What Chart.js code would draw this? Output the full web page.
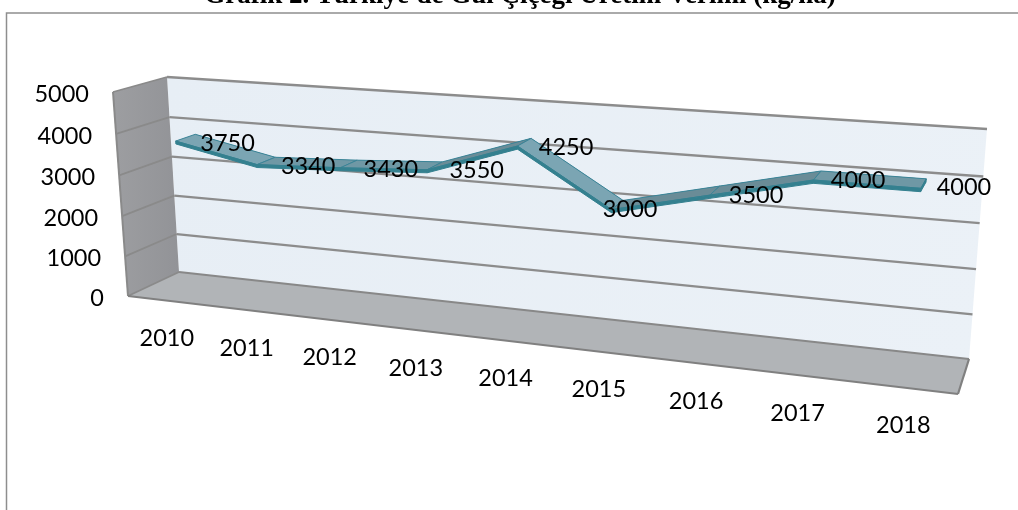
<!DOCTYPE html>
<html lang="tr">
<head>
  <meta charset="UTF-8">
  <title>Grafik 2</title>
  <style>
    html, body { margin: 0; padding: 0; background: #fff; overflow: hidden; }
    .chart-container { position: relative; width: 1018px; height: 510px; }
  </style>
  <script src="https://cdn.jsdelivr.net/npm/chart.js"></script>
</head>
<body>
<div class="chart-container"><canvas id="chart"></canvas></div>
<script>
  const years = ['2010', '2011', '2012', '2013', '2014', '2015', '2016', '2017', '2018'];
  const verim = [3750, 3340, 3430, 3550, 4250, 3000, 3500, 4000, 4000];
  const yTicks = [0, 1000, 2000, 3000, 4000, 5000];
  const chartTitle = "Grafik 2. Türkiye'de Gül Çiçeği Üretim Verimi (kg/ha)";

  // quad corners of the fake 3d box: bottom left, bottom right, top right, top left
  const backWall = [[179, 272], [969, 359], [987, 129], [167, 77]];
  const frontPlane = [[128, 296], [958, 394], [976, 152], [113, 92]];
  const ribbonFront = 0.37, ribbonBack = 0.75, ribbonThick = 0.014;
  const labelFont = '23.5px Lato';

  function quadMap(q) {
    const [[x0, y0], [x1, y1], [x2, y2], [x3, y3]] = q;
    const dx1 = x1 - x2, dx2 = x3 - x2, sx = x0 - x1 + x2 - x3;
    const dy1 = y1 - y2, dy2 = y3 - y2, sy = y0 - y1 + y2 - y3;
    const den = dx1 * dy2 - dx2 * dy1;
    const g = (sx * dy2 - dx2 * sy) / den, h = (dx1 * sy - sx * dy1) / den;
    const a = x1 - x0 + g * x1, b = x3 - x0 + h * x3;
    const d = y1 - y0 + g * y1, e = y3 - y0 + h * y3;
    return (u, v) => {
      const k = g * u + h * v + 1;
      return [(a * u + b * v + x0) / k, (d * u + e * v + y0) / k];
    };
  }
  const onBack = quadMap(backWall), onFront = quadMap(frontPlane);

  // u along the years, v up the value axis, w from front (0) to back (1)
  function project(u, v, w) {
    const f = onFront(u, v), b = onBack(u, v);
    return [f[0] + (b[0] - f[0]) * w, f[1] + (b[1] - f[1]) * w];
  }

  function poly(ctx, pts, fill, stroke, lw) {
    ctx.beginPath();
    pts.forEach((p, i) => i ? ctx.lineTo(p[0], p[1]) : ctx.moveTo(p[0], p[1]));
    ctx.closePath();
    if (fill) { ctx.fillStyle = fill; ctx.fill(); }
    if (stroke) { ctx.strokeStyle = stroke; ctx.lineWidth = lw || 1; ctx.stroke(); }
  }
  function seg(ctx, a, b, color, lw) {
    ctx.beginPath();
    ctx.moveTo(a[0], a[1]);
    ctx.lineTo(b[0], b[1]);
    ctx.strokeStyle = color;
    ctx.lineWidth = lw;
    ctx.stroke();
  }

  const box3d = {
    id: 'box3d',
    beforeDatasetsDraw(chart) {
      const ctx = chart.ctx, y = chart.scales.y, x = chart.scales.x, area = chart.chartArea;
      const vOf = t => (area.bottom - y.getPixelForValue(t)) / area.height;
      ctx.save();

      // frame, the right and bottom sides are cut off in the source
      ctx.strokeStyle = '#8e8e8e';
      ctx.lineWidth = 1.5;
      ctx.beginPath();
      ctx.moveTo(6.5, 510);
      ctx.lineTo(6.5, 13);
      ctx.lineTo(1018, 13);
      ctx.stroke();

      const wallGrad = ctx.createLinearGradient(170, 80, 980, 350);
      wallGrad.addColorStop(0, '#e7eef5');
      wallGrad.addColorStop(1, '#ebf1f7');
      poly(ctx, backWall, wallGrad);

      const sideGrad = ctx.createLinearGradient(113, 0, 179, 0);
      sideGrad.addColorStop(0, '#9d9ea1');
      sideGrad.addColorStop(1, '#929397');
      poly(ctx, [frontPlane[3], backWall[3], backWall[0], frontPlane[0]], sideGrad);
      poly(ctx, [frontPlane[0], backWall[0], backWall[1], frontPlane[1]], '#b1b4b7');

      yTicks.forEach(t => {
        const v = vOf(t);
        seg(ctx, project(0, v, 0), project(0, v, 1), '#8a8a8a', 1.8);
        if (t > 0) seg(ctx, project(0, v, 1), project(1, v, 1), '#8c8c8c', 2.3);
      });
      // box edges
      seg(ctx, project(0, 0, 0), project(0, 1, 0), '#8a8a8a', 2);
      seg(ctx, project(0, 0, 1), project(1, 0, 1), '#888888', 2);
      seg(ctx, project(0, 0, 0), project(1, 0, 0), '#808080', 2.2);
      seg(ctx, project(1, 0, 0), project(1, 0, 1), '#808080', 2.2);

      // axis text
      ctx.fillStyle = '#000';
      ctx.font = labelFont;
      ctx.textBaseline = 'middle';
      ctx.textAlign = 'right';
      yTicks.forEach(t => {
        const p = project(0, vOf(t), 0);
        ctx.fillText(String(t), p[0] - 24, p[1] + 2);
      });
      ctx.textAlign = 'center';
      years.forEach((yr, i) => {
        const u = (x.getPixelForValue(i) - area.left) / area.width;
        const p = project(u, 0, 0);
        ctx.fillText(yr, p[0], p[1] + 38);
      });

      // title, clipped by the top of the page like in the source
      ctx.font = 'bold 27px "Liberation Serif"';
      ctx.textBaseline = 'alphabetic';
      ctx.fillText(chartTitle, 520, 3);
      ctx.restore();
    },
    afterDatasetsDraw(chart) {
      const ctx = chart.ctx, area = chart.chartArea;
      const pts = chart.getDatasetMeta(0).data.map(el => ({
        u: (el.x - area.left) / area.width,
        v: (area.bottom - el.y) / area.height
      }));
      const edgeF = p => project(p.u, p.v, ribbonFront);
      const edgeB = p => project(p.u, p.v, ribbonBack);
      const lowF = p => project(p.u, p.v - ribbonThick, ribbonFront);
      const lowB = p => project(p.u, p.v - ribbonThick, ribbonBack);
      ctx.save();
      ctx.lineJoin = 'round';
      for (let i = 0; i < pts.length - 1; i++) {
        const a = pts[i], b = pts[i + 1], dv = b.v - a.v;
        const top = dv < -0.03 ? '#7ba5b3' : dv > 0.03 ? '#6a8c97' : '#6f98a5';
        poly(ctx, [lowB(a), lowB(b), edgeB(b), edgeB(a)], '#34808f');
        poly(ctx, [edgeF(a), edgeF(b), edgeB(b), edgeB(a)], top, '#3b8497', 1);
        poly(ctx, [edgeF(a), edgeF(b), lowF(b), lowF(a)], '#34808f', '#34808f', 1);
      }
      const last = pts[pts.length - 1];
      poly(ctx, [edgeF(last), edgeB(last), lowB(last), lowF(last)], '#34808f', '#34808f', 1);

      // value labels sit to the right of the back edge, 3000 is moved in the source
      ctx.fillStyle = '#000';
      ctx.font = labelFont;
      ctx.textAlign = 'center';
      ctx.textBaseline = 'middle';
      pts.forEach((p, i) => {
        const e = edgeB(p);
        const shift = i === 5 ? 7 : 32 + 6 * p.u;
        ctx.fillText(String(verim[i]), e[0] + shift, e[1] + 9);
      });
      ctx.restore();
    }
  };

  new Chart(document.getElementById('chart'), {
    type: 'line',
    data: {
      labels: years,
      datasets: [{
        data: verim,
        showLine: false,
        pointRadius: 0
      }]
    },
    options: {
      responsive: true,
      maintainAspectRatio: false,
      animation: false,
      layout: { padding: 0 },
      plugins: { legend: { display: false }, tooltip: { enabled: false } },
      scales: {
        x: { display: false, offset: true, grid: { display: false } },
        y: { display: false, min: 0, max: 5000, grid: { display: false } }
      }
    },
    plugins: [box3d]
  });
</script>
</body>
</html>
